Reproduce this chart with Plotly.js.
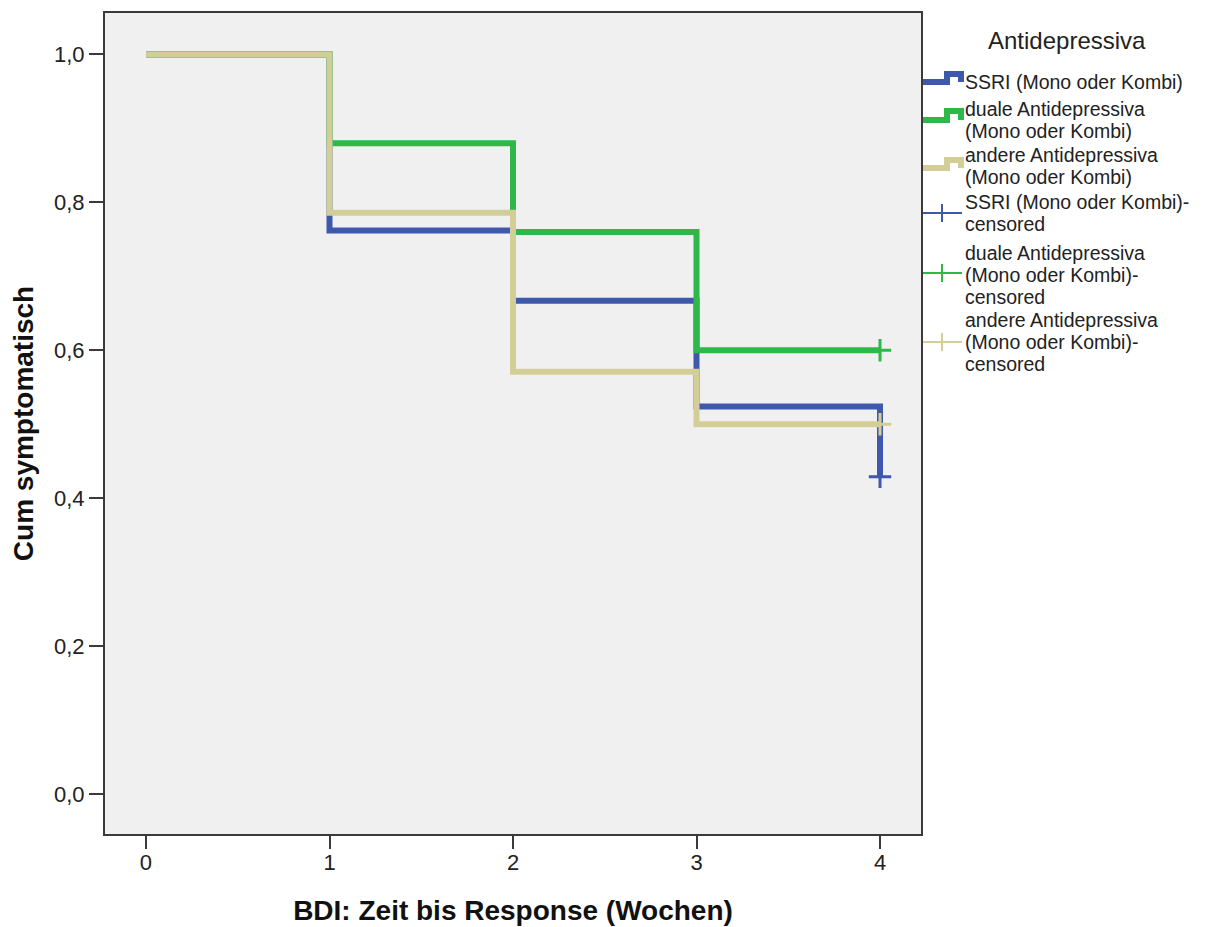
<!DOCTYPE html>
<html>
<head>
<meta charset="utf-8">
<script src="https://cdn.plot.ly/plotly-3.0.1.min.js"></script>
<style>
  html, body { margin: 0; padding: 0; background: #ffffff; }
  #chart { width: 1216px; height: 927px; }
</style>
</head>
<body>
<div id="chart"></div>
<script>
// Kaplan-Meier estimates: cumulative proportion still symptomatic per week
const weeks = [0, 1, 2, 3, 4];
const ssri  = [1.0, 0.762, 0.667, 0.524, 0.429];
const duale = [1.0, 0.880, 0.760, 0.600, 0.600];
const andere = [1.0, 0.786, 0.571, 0.500, 0.500];

// censored observations at the end of follow-up
const censTime = [4];
const ssriCens = [0.429];
const dualeCens = [0.600];
const andereCens = [0.500];

const seriesNames = [
  'SSRI (Mono oder Kombi)',
  'duale Antidepressiva (Mono oder Kombi)',
  'andere Antidepressiva (Mono oder Kombi)'
];
const legendTitle = 'Antidepressiva';
const xTitle = 'BDI: Zeit bis Response (Wochen)';
const yTitle = 'Cum symptomatisch';
const yTicks = [0, 0.2, 0.4, 0.6, 0.8, 1.0];
const xTicks = [0, 1, 2, 3, 4];

const BLUE = '#3e58ac';
const GREEN = '#2eb84a';
const BEIGE = '#d3ce97';
const FONT = 'Liberation Sans, Arial, sans-serif';

function stepTrace(name, y, color) {
  return {
    type: 'scatter', mode: 'lines', name: name,
    x: weeks, y: y,
    line: { shape: 'hv', color: color, width: 6 },
    showlegend: false, hoverinfo: 'x+y+name'
  };
}
function censTrace(name, y, color) {
  return {
    type: 'scatter', mode: 'markers', name: name + '-censored',
    x: censTime, y: y,
    marker: { symbol: 'cross-thin', size: 16, line: { color: color, width: 3 } },
    showlegend: false, hoverinfo: 'x+y+name'
  };
}

const traces = [
  stepTrace(seriesNames[0], ssri, BLUE),
  stepTrace(seriesNames[1], duale, GREEN),
  stepTrace(seriesNames[2], andere, BEIGE),
  censTrace(seriesNames[0], ssriCens, BLUE),
  censTrace(seriesNames[1], dualeCens, GREEN),
  censTrace(seriesNames[2], andereCens, BEIGE)
];

// plot area geometry (pixels) used to place the hand-built legend
const L = 105, T = 13, W = 816, H = 821;
const px = v => (v - L) / W;
const py = v => (T + H - v) / H;

const legendLines = [
  { t: 'SSRI (Mono oder Kombi)', y: 82 },
  { t: 'duale Antidepressiva', y: 109 },
  { t: '(Mono oder Kombi)', y: 131 },
  { t: 'andere Antidepressiva', y: 155 },
  { t: '(Mono oder Kombi)', y: 177 },
  { t: 'SSRI (Mono oder Kombi)-', y: 202 },
  { t: 'censored', y: 224 },
  { t: 'duale Antidepressiva', y: 253 },
  { t: '(Mono oder Kombi)-', y: 275 },
  { t: 'censored', y: 297 },
  { t: 'andere Antidepressiva', y: 320 },
  { t: '(Mono oder Kombi)-', y: 342 },
  { t: 'censored', y: 364 }
];

const annotations = [{
  xref: 'paper', yref: 'paper', x: px(1067), y: py(40),
  xanchor: 'center', yanchor: 'middle', showarrow: false,
  text: legendTitle, font: { family: FONT, size: 24, color: '#222222' }
}].concat(legendLines.map(l => ({
  xref: 'paper', yref: 'paper', x: px(964), y: py(l.y),
  xanchor: 'left', yanchor: 'middle', showarrow: false, borderpad: 0,
  text: l.t, font: { family: FONT, size: 19.5, color: '#222222' }
})));

function stepIcon(low, high, color) {
  const p = `M ${px(923)} ${py(low)} L ${px(947)} ${py(low)} L ${px(947)} ${py(high)} L ${px(961)} ${py(high)} L ${px(961)} ${py(low)}`;
  return { type: 'path', xref: 'paper', yref: 'paper', path: p,
           line: { color: color, width: 6 } };
}
function crossIcon(yc, color) {
  return [
    { type: 'line', xref: 'paper', yref: 'paper',
      x0: px(923), x1: px(962), y0: py(yc), y1: py(yc), line: { color: color, width: 2 } },
    { type: 'line', xref: 'paper', yref: 'paper',
      x0: px(942), x1: px(942), y0: py(yc - 9), y1: py(yc + 9), line: { color: color, width: 2 } }
  ];
}

const shapes = [
  stepIcon(82, 74, BLUE),
  stepIcon(120, 111, GREEN),
  stepIcon(168, 160, BEIGE)
].concat(crossIcon(213, BLUE), crossIcon(273, GREEN), crossIcon(342, BEIGE));

const layout = {
  width: 1216, height: 927,
  margin: { l: L, r: 1216 - L - W, t: T, b: 927 - T - H, pad: 0 },
  paper_bgcolor: '#ffffff',
  plot_bgcolor: '#f0f0f0',
  separators: ',.',
  showlegend: false,
  font: { family: FONT, color: '#222222' },
  xaxis: {
    range: [-0.2234, 4.2234],
    tickvals: xTicks, ticktext: xTicks.map(String),
    ticks: 'outside', ticklen: 13, tickwidth: 2, tickcolor: '#3a3a3a',
    ticklabelstandoff: -5,
    showline: true, mirror: true, linecolor: '#3a3a3a', linewidth: 2,
    showgrid: false, zeroline: false,
    tickfont: { family: FONT, size: 22, color: '#222222' },
    title: { text: xTitle, standoff: 26,
             font: { family: FONT, size: 28, weight: 'bold', color: '#111111' } }
  },
  yaxis: {
    range: [-0.054, 1.056],
    tickvals: yTicks, tickformat: '.1f',
    ticks: 'outside', ticklen: 14, tickwidth: 2, tickcolor: '#3a3a3a',
    showline: true, mirror: true, linecolor: '#3a3a3a', linewidth: 2,
    showgrid: false, zeroline: false,
    tickfont: { family: FONT, size: 22, color: '#222222' },
    title: { text: yTitle, standoff: 12,
             font: { family: FONT, size: 28, weight: 'bold', color: '#111111' } }
  },
  annotations: annotations,
  shapes: shapes
};

Plotly.newPlot('chart', traces, layout, { displayModeBar: false, staticPlot: true });
</script>
</body>
</html>
